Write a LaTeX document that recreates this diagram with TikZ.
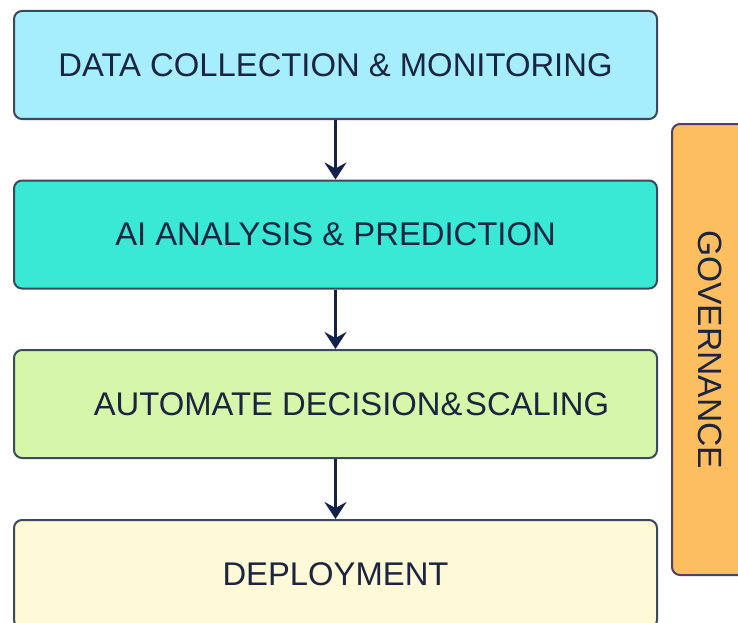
\documentclass[tikz,border=0pt]{standalone}
\usepackage{fontspec}
\setmainfont{Liberation Sans}
\usetikzlibrary{arrows.meta}
\definecolor{ink}{RGB}{27,36,64}
\definecolor{edge}{RGB}{60,72,92}
\definecolor{arrowc}{RGB}{20,33,74}
\definecolor{cyanbox}{RGB}{166,238,254}
\definecolor{tealbox}{RGB}{58,232,214}
\definecolor{limebox}{RGB}{214,247,170}
\definecolor{creambox}{RGB}{254,249,214}
\definecolor{orangebox}{RGB}{253,190,96}
\definecolor{govedge}{RGB}{80,64,100}
\begin{document}
\begin{tikzpicture}[x=1pt,y=-1pt,
  stage/.style={draw=edge, line width=2pt, rounded corners=8pt,
    minimum width=643pt, minimum height=108pt, inner sep=0pt,
    font=\fontsize{32.8}{38}\selectfont, text=ink},
  flow/.style={draw=arrowc, line width=3pt,
    -{Stealth[length=17pt,width=22pt,inset=6pt]}},
  govbox/.style={draw=govedge, line width=2pt, rounded corners=8pt,
    fill=orangebox, minimum width=76pt, minimum height=451pt, inner sep=0pt},
  govtext/.style={font=\fontsize{33.6}{38}\selectfont, text=ink, rotate=-90}]
\clip (0,0) rectangle (738,623);
\fill[white] (0,0) rectangle (738,623);

% pipeline stages
\node[stage, fill=cyanbox]  (b1) at (335.5,65)  {DATA COLLECTION \& MONITORING};
\node[stage, fill=tealbox]  (b2) at (335.5,234.5) {AI ANALYSIS \& PREDICTION};
\node[stage, fill=limebox]  (b3) at (335.5,404) {\hspace*{32pt}AUTOMATE DECISION\&\hspace{0.08em}SCALING};
\node[stage, fill=creambox] (b4) at (335.5,574) {DEPLOYMENT};

% governance side bar
\node[govbox] (gov) at (710,349.5) {};
\node[govtext] (govlbl) at (gov.center) {GOVERNANCE};

% flow arrows
\draw[flow] (b1.south) -- (b2.north);
\draw[flow] (b2.south) -- (b3.north);
\draw[flow] (b3.south) -- (b4.north);
\end{tikzpicture}
\end{document}
